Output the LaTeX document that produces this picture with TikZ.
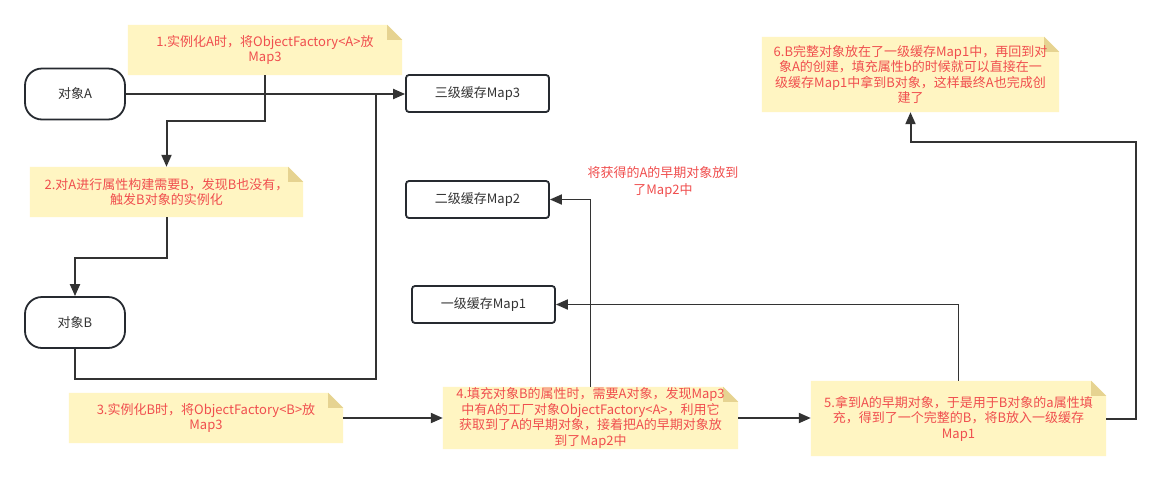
\documentclass[tikz,border=0pt]{standalone}
\usepackage{fontspec}
\setmainfont{Noto Sans CJK SC}
\usetikzlibrary{arrows.meta,backgrounds,positioning}
\definecolor{notefill}{HTML}{FFF5C2}
\definecolor{notefold}{HTML}{E6D391}
\definecolor{notered}{HTML}{F04E4E}
\definecolor{linegray}{HTML}{333333}
\definecolor{boxline}{HTML}{262A30}
\newcommand{\notepaper}[1]{%
	\begin{pgfonlayer}{background}
		\fill[notefill] (#1.south west) -- (#1.north west) -- ([xshift=-15pt]#1.north east) -- ([yshift=-15pt]#1.north east) -- (#1.south east) -- cycle;
		\fill[notefold] ([xshift=-15pt]#1.north east) -- ([xshift=-15pt,yshift=-15pt]#1.north east) -- ([yshift=-15pt]#1.north east) -- cycle;
	\end{pgfonlayer}}

\begin{document}
\begin{tikzpicture}[x=1pt,y=-1pt,
		note/.style={text=notered,align=center,inner sep=0pt,font=\fontsize{13}{15.5}\selectfont},
		obj/.style={draw=boxline,line width=1.8pt,rounded corners=17pt,minimum width=100pt,minimum height=51pt,text=linegray,font=\fontsize{13}{15.5}\selectfont},
		cache/.style={draw=boxline,line width=1.8pt,rounded corners=3pt,minimum width=143pt,minimum height=37pt,text=linegray,font=\fontsize{13}{15.5}\selectfont},
		flow/.style={draw=linegray,line width=2pt},
		flowthin/.style={draw=linegray,line width=1.8pt},
		arr/.style={-{Triangle[length=12pt,width=10pt]}}]
	\begin{pgfonlayer}{background}
		\fill[white] (0,0) rectangle (1160,480);
	\end{pgfonlayer}
	\useasboundingbox (0,0) rectangle (1160,480);

	\node[obj] (objA) at (75,94) {对象A};
	\node[obj] (objB) at (75,322.5) {对象B};
	\node[cache] (map3) at (477.5,93.5) {三级缓存Map3};
	\node[cache] (map2) at (477.5,199.5) {二级缓存Map2};
	\node[cache] (map1) at (483.5,304.5) {一级缓存Map1};

	\node[note,minimum width=274pt,minimum height=50pt] (note1) at (265,50) {1.实例化A时，将ObjectFactory<A>放\\Map3};
	\node[note,minimum width=273pt,minimum height=50pt] (note2) at (166.5,192) {2.对A进行属性构建需要B，发现B也没有，\\触发B对象的实例化};
	\node[note,minimum width=274pt,minimum height=50pt] (note3) at (206,418) {3.实例化B时，将ObjectFactory<B>放\\Map3};
	\node[note,minimum width=295pt,minimum height=62pt] (note4) at (590.5,418) {4.填充对象B的属性时，需要A对象，发现Map3\\中有A的工厂对象ObjectFactory<A>，利用它\\获取到了A的早期对象，接着把A的早期对象放\\到了Map2中};
	\node[note,minimum width=295pt,minimum height=75pt] (note5) at (958.5,418.5) {5.拿到A的早期对象，于是用于B对象的a属性填\\充，得到了一个完整的B，将B放入一级缓存\\Map1};
	\node[note,minimum width=297pt,minimum height=75pt] (note6) at (910.5,74.5) {6.B完整对象放在了一级缓存Map1中，再回到对\\象A的创建，填充属性b的时候就可以直接在一\\级缓存Map1中拿到B对象，这样最终A也完成创\\建了};
	\node[note,font=\fontsize{13}{17}\selectfont] (lbl2) at (663,181.5) {将获得的A的早期对象放到\\了Map2中};

	\notepaper{note1}
	\notepaper{note2}
	\notepaper{note3}
	\notepaper{note4}
	\notepaper{note5}
	\notepaper{note6}

	\coordinate (jA) at (376,94);
	\coordinate (turn) at (1136,142);

	\draw[flow,arr] (objA.east) -- (objA.east -| map3.west);
	\draw[flow,arr] (note1.south) -- ++(0,46) -| (note2.north);
	\draw[flow,arr] (note2.south) -- ++(0,41) -| (objB.north);
	\draw[flow] (objB.south) -- ++(0,30) -| (jA);
	\draw[flow,arr] (note3.east) -- (note4.west);
	\draw[flowthin,arr] (note4.north) |- (map2.east);
	\draw[flow,arr] (note4.east) -- (note4.east -| note5.west);
	\draw[flowthin,arr] (note5.north) |- (map1.east);
	\draw[flow,arr] (note5.east) -| (turn) -| (note6.south);
\end{tikzpicture}
\end{document}
